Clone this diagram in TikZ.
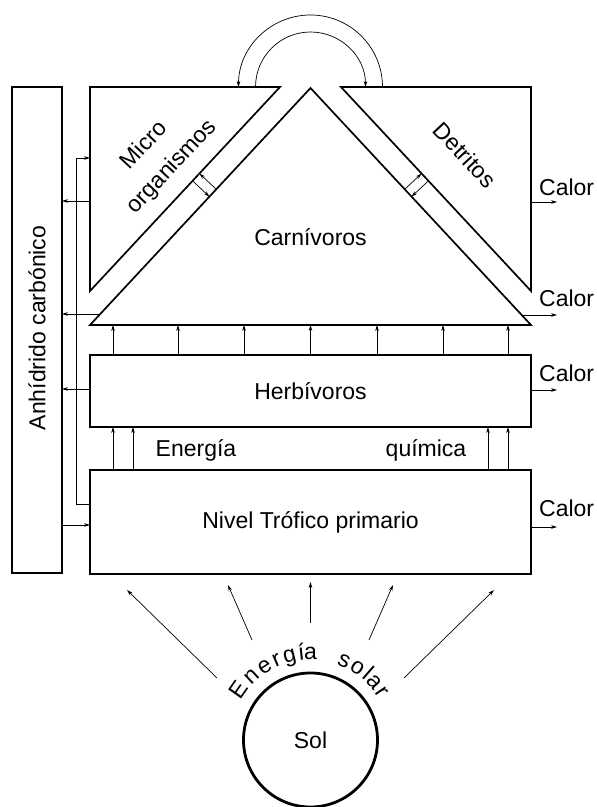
\documentclass[tikz,border=0pt]{standalone}
\usepackage{fontspec}
\setmainfont{Liberation Sans}
\usetikzlibrary{arrows.meta}
\begin{document}
\begin{tikzpicture}[x=1pt,y=1pt,
  heavy/.style={draw, line width=1.7pt},
  heavybox/.style={draw, line width=1.7pt, inner sep=0pt, outer sep=0pt},
  thinarrow/.style={draw, line width=0.7pt, -{Stealth[length=6pt,width=3.6pt]}},
  thinline/.style={draw, line width=0.7pt},
  txt/.style={font=\fontsize{23}{27}\selectfont, inner sep=0pt}]
\useasboundingbox (0,0) rectangle (597,807);

% boxes
\node[heavybox, minimum width=50, minimum height=486] (co2) at (37,477) {};
\node[txt, rotate=90] (co2t) at (37,479) {Anhídrido carbónico};
\node[heavybox, minimum width=441, minimum height=72, txt] (herb) at (310.5,416) {Herbívoros};
\node[heavybox, minimum width=441, minimum height=104, txt] (prim) at (310.5,285) {Nivel Trófico primario};

% triangles
\coordinate (mA) at (90,720); \coordinate (mB) at (280,720); \coordinate (mC) at (90,516);
\coordinate (cL) at (90,482); \coordinate (cT) at (310.5,719); \coordinate (cR) at (531,482);
\coordinate (dA) at (341,720); \coordinate (dB) at (531,720); \coordinate (dC) at (531,516);
\draw[heavy] (mA) -- (mB) -- (mC) -- cycle;
\draw[heavy] (cL) -- (cT) -- (cR) -- cycle;
\draw[heavy] (dA) -- (dB) -- (dC) -- cycle;

\node[txt, rotate=47] (micro) at (143,663) {Micro};
\node[txt, rotate=47] (org) at (172,640) {organismos};
\node[txt, rotate=-47] (detr) at (465,652) {Detritos};
\node[txt] (carn) at (310.5,570) {Carnívoros};

% top arcs
\coordinate (oS) at (382.5,720);
\coordinate (iS) at (255.5,720);
\draw[thinarrow] (oS) arc[start angle=0, end angle=180, radius=72];
\draw[thinarrow] (iS) arc[start angle=180, end angle=0, radius=55];

% gap arrows
\coordinate (g1a) at (216.2,617.8); \coordinate (g1b) at (199.4,633.5);
\coordinate (g2a) at (192.6,626.1); \coordinate (g2b) at (209.4,610.4);
\coordinate (g3a) at (404.8,617.8); \coordinate (g3b) at (421.6,633.5);
\coordinate (g4a) at (428.4,626.1); \coordinate (g4b) at (411.6,610.4);
\draw[thinarrow] (g1a) -- (g1b);
\draw[thinarrow] (g2a) -- (g2b);
\draw[thinarrow] (g3a) -- (g3b);
\draw[thinarrow] (g4a) -- (g4b);

% herb -> carnivore arrows
\foreach \x [count=\i] in {113,178,244,310.5,377,443,508} {
  \coordinate (hu\i) at (\x,482);
  \draw[thinarrow] (herb.north -| hu\i) -- (hu\i);
}
% primary -> herb arrows
\foreach \x [count=\i] in {113,133,488,508} {
  \coordinate (pu\i) at (\x,380);
  \draw[thinarrow] (prim.north -| pu\i) -- (herb.south -| pu\i);
}
\node[txt, anchor=base] (en) at (196,350) {Energía};
\node[txt, anchor=base] (qu) at (426,350) {química};

% CO2 arrows
\coordinate (c1) at (90,606);
\coordinate (c2) at (100.2,493);
\coordinate (c3) at (90,418);
\coordinate (c4) at (90,282);
\draw[thinarrow] (c1) -- (co2.east |- c1);
\draw[thinarrow] (c2) -- (co2.east |- c2);
\draw[thinarrow] (c3) -- (co2.east |- c3);
\draw[thinarrow] (co2.east |- c4) -- (c4);

% return line to micro
\coordinate (r1) at (90,303); \coordinate (r2) at (76,303);
\coordinate (r3) at (76,649); \coordinate (r4) at (90,649);
\draw[thinarrow] (r1) -- (r2) -- (r3) -- (r4);

% Calor
\coordinate (k1) at (531,605); \coordinate (k2) at (521.7,492);
\coordinate (k3) at (531,417); \coordinate (k4) at (531,280);
\foreach \k in {k1,k2,k3,k4} { \draw[thinarrow] (\k) -- (557,0 |- \k); }
\node[txt, anchor=west] (cal1) at (539,620) {Calor};
\node[txt, anchor=west] (cal2) at (539,509) {Calor};
\node[txt, anchor=west] (cal3) at (539,434) {Calor};
\node[txt, anchor=west] (cal4) at (539,299) {Calor};

% sun
\node[draw, circle, line width=2.8pt, minimum size=134, inner sep=0pt, txt] (sol) at (310.5,67) {Sol};
\coordinate (s1a) at (217,129); \coordinate (s1b) at (127,217);
\coordinate (s2a) at (252,167); \coordinate (s2b) at (228,222);
\coordinate (s3a) at (310.5,184); \coordinate (s3b) at (310.5,225);
\coordinate (s4a) at (369,167); \coordinate (s4b) at (393,222);
\coordinate (s5a) at (404,129); \coordinate (s5b) at (494,217);
\foreach \s in {1,...,5} { \draw[thinarrow] (s\s a) -- (s\s b); }

\foreach \ch/\ang [count=\i] in {E/145, n/133, e/122, r/113, g/104, í/96, a/90, s/67, o/57, l/49, a/42, r/34} {
  \node[txt, rotate=\ang-90, anchor=base] (es\i) at ([shift={(\ang:80)}]sol.center) {\ch};
}
\end{tikzpicture}
\end{document}
